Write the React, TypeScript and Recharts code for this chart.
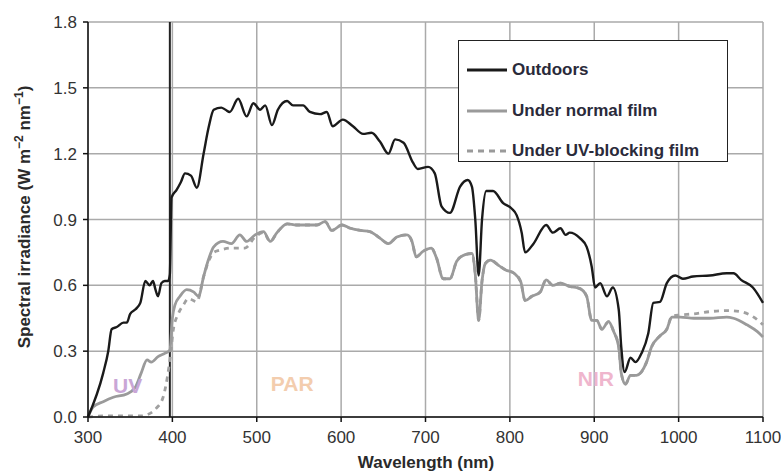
import {
  CartesianGrid,
  Legend,
  Line,
  LineChart,
  ReferenceDot,
  ReferenceLine,
  XAxis,
  YAxis,
} from 'recharts'

const xTicks = [300, 400, 500, 600, 700, 800, 900, 1000, 1100]
const yTicks = [0, 0.3, 0.6, 0.9, 1.2, 1.5, 1.8]

const outdoorsNm = [
  300, 318, 324, 328, 334, 342, 346, 350, 356, 362, 368, 373, 377, 380, 383, 387, 391, 395, 397, 399,
  405, 410, 415, 422, 429, 437, 443, 449, 458, 463, 468, 478, 488, 496, 504, 510, 518, 525, 536, 543,
  555, 563, 575, 583, 590, 602, 614, 626, 636, 646, 656, 664, 674, 685, 691, 703, 711, 719, 729, 741,
  750, 755, 759, 763, 767, 772, 780, 792, 802, 808, 814, 818, 828, 843, 851, 860, 866, 871, 883, 891,
  897, 901, 907, 915, 922, 929, 932, 936, 943, 949, 956, 964, 970, 978, 986, 996, 1005, 1017, 1037, 1057,
  1065, 1074, 1088, 1100,
]
const outdoorsVal = [
  0, 0.2, 0.3, 0.4, 0.41, 0.43, 0.43, 0.47, 0.49, 0.52, 0.62, 0.6, 0.62, 0.58, 0.55, 0.61, 0.62, 0.62, 0.65, 1.0,
  1.035, 1.07, 1.11, 1.1, 1.045, 1.2, 1.32, 1.4, 1.41, 1.4, 1.39, 1.45, 1.37, 1.43, 1.4, 1.42, 1.33, 1.4, 1.44, 1.42,
  1.42, 1.39, 1.38, 1.39, 1.325, 1.355, 1.325, 1.29, 1.295, 1.255, 1.2, 1.265, 1.25, 1.16, 1.13, 1.14, 1.11, 0.96, 0.93, 1.05,
  1.08, 1.05, 0.9, 0.645, 0.9, 1.03, 1.03, 0.975, 0.95, 0.92, 0.84, 0.75, 0.79, 0.875, 0.84, 0.86, 0.83, 0.84, 0.815, 0.775,
  0.685, 0.59, 0.61, 0.55, 0.59, 0.49, 0.32, 0.205, 0.27, 0.25, 0.29, 0.38, 0.52, 0.525, 0.61, 0.645, 0.63, 0.64, 0.645, 0.655,
  0.655, 0.625, 0.59, 0.52,
]

const normalNm = [
  300, 306, 318, 330, 346, 356, 363, 370, 375, 383, 391, 397, 400, 403, 409, 417, 425, 431, 437, 443,
  449, 460, 470, 480, 488, 498, 508, 516, 524, 536, 547, 559, 571, 581, 589, 601, 611, 623, 634, 646,
  656, 666, 678, 684, 689, 697, 707, 713, 721, 729, 737, 747, 755, 759, 763, 767, 771, 777, 787, 795,
  805, 813, 818, 826, 836, 843, 851, 860, 871, 883, 891, 897, 903, 909, 917, 923, 929, 932, 937, 943,
  950, 962, 968, 978, 986, 992, 1002, 1018, 1037, 1057, 1065, 1081, 1093, 1100,
]
const normalVal = [
  0, 0.045, 0.07, 0.09, 0.105, 0.135, 0.2, 0.26, 0.25, 0.275, 0.29, 0.305, 0.45, 0.51, 0.55, 0.58, 0.57, 0.55, 0.64, 0.72,
  0.775, 0.8, 0.79, 0.83, 0.8, 0.83, 0.845, 0.8, 0.84, 0.88, 0.875, 0.875, 0.875, 0.89, 0.85, 0.875, 0.86, 0.85, 0.845, 0.815,
  0.79, 0.82, 0.83, 0.8, 0.73, 0.755, 0.77, 0.725, 0.63, 0.63, 0.71, 0.74, 0.745, 0.65, 0.44, 0.62, 0.7, 0.715, 0.69, 0.67,
  0.655, 0.615, 0.53, 0.55, 0.57, 0.625, 0.6, 0.61, 0.595, 0.585, 0.55, 0.44, 0.44, 0.4, 0.435, 0.39, 0.32, 0.2, 0.15, 0.19,
  0.19, 0.25, 0.32, 0.37, 0.4, 0.455, 0.455, 0.45, 0.45, 0.455, 0.45, 0.42, 0.39, 0.365,
]

const uvBlockNm = [
  300, 320, 340, 364, 370, 381, 389, 394, 398, 401, 407, 413, 419, 429, 437, 443, 449, 456, 470, 486,
  498, 508, 516, 524, 536, 547, 559, 571, 581, 589, 601, 611, 623, 634, 646, 656, 666, 678, 684, 689,
  697, 707, 713, 721, 729, 737, 747, 755, 759, 763, 767, 771, 777, 787, 795, 805, 813, 818, 826, 836,
  843, 851, 860, 871, 883, 891, 897, 903, 909, 917, 923, 929, 932, 937, 943, 950, 962, 968, 978, 986,
  992, 1002, 1018, 1037, 1057, 1073, 1089, 1100,
]
const uvBlockVal = [
  0, 0.005, 0.005, 0.005, 0.01, 0.04, 0.09, 0.18, 0.29, 0.395, 0.47, 0.51, 0.54, 0.525, 0.64, 0.71, 0.75, 0.76, 0.77, 0.77,
  0.82, 0.84, 0.8, 0.84, 0.88, 0.875, 0.875, 0.875, 0.89, 0.85, 0.875, 0.86, 0.85, 0.845, 0.815, 0.79, 0.82, 0.83, 0.8, 0.73,
  0.755, 0.77, 0.725, 0.63, 0.63, 0.71, 0.74, 0.745, 0.65, 0.44, 0.62, 0.7, 0.715, 0.69, 0.67, 0.655, 0.615, 0.53, 0.55, 0.57,
  0.625, 0.6, 0.61, 0.595, 0.585, 0.55, 0.44, 0.44, 0.4, 0.435, 0.39, 0.32, 0.2, 0.15, 0.19, 0.19, 0.25, 0.32, 0.37, 0.4,
  0.46, 0.465, 0.47, 0.48, 0.485, 0.48, 0.455, 0.42,
]

const toPoints = (nm: number[], val: number[]) => nm.map((x, i) => ({ nm: x, value: val[i] }))

const outdoors = toPoints(outdoorsNm, outdoorsVal)
const normalFilm = toPoints(normalNm, normalVal)
const uvBlockFilm = toPoints(uvBlockNm, uvBlockVal)

const FONT = '"Liberation Sans", Arial, sans-serif'

const legendItems = [
  { label: 'Outdoors', color: '#1a1a1a', dash: undefined },
  { label: 'Under normal film', color: '#9a9a9a', dash: undefined },
  { label: 'Under UV-blocking film', color: '#9a9a9a', dash: '6 5' },
]

function LegendBox() {
  return (
    <div
      style={{
        border: '1.5px solid #222',
        background: '#fff',
        width: 270,
        height: 122,
        boxSizing: 'border-box',
        padding: '9px 0 0 8px',
        fontFamily: FONT,
      }}
    >
      {legendItems.map((it) => (
        <div key={it.label} style={{ display: 'flex', alignItems: 'center', height: 40.5 }}>
          <svg width={40} height={6} style={{ marginRight: 5 }}>
            <line x1={0} y1={3} x2={40} y2={3} stroke={it.color} strokeWidth={3} strokeDasharray={it.dash} />
          </svg>
          <span style={{ fontWeight: 'bold', fontSize: 17, color: '#2a2a3a' }}>{it.label}</span>
        </div>
      ))}
    </div>
  )
}

const regionLabel = (text: string, color: string) => ({
  value: text,
  position: 'center' as const,
  fill: color,
  fontSize: 21,
  fontWeight: 'bold',
  fontFamily: FONT,
})

export default function App() {
  return (
    <div style={{ position: 'absolute', left: 0, top: 0, background: '#fff' }}>
      <LineChart
        width={781}
        height={475}
        margin={{ top: 22, right: 18, bottom: 28, left: 28 }}
        style={{ fontFamily: FONT }}
      >
        <CartesianGrid stroke="#aaaaaa" strokeWidth={1.5} />
        <XAxis
          dataKey="nm"
          type="number"
          domain={[300, 1100]}
          ticks={xTicks}
          height={30}
          allowDuplicatedCategory={false}
          stroke="#111"
          strokeWidth={1.5}
          tickSize={5}
          tickMargin={9}
          tick={{ fill: '#333', fontSize: 17, fontFamily: FONT }}
        />
        <YAxis
          type="number"
          domain={[0, 1.8]}
          ticks={yTicks}
          width={60}
          stroke="#111"
          strokeWidth={1.5}
          tickSize={5}
          tickMargin={6}
          tickFormatter={(v: number) => v.toFixed(1)}
          tick={{ fill: '#333', fontSize: 17, fontFamily: FONT }}
        />
        <ReferenceLine x={397} stroke="#222" strokeWidth={2} />
        <Line
          data={uvBlockFilm}
          dataKey="value"
          type="monotone"
          stroke="#a0a0a0"
          strokeWidth={2.8}
          strokeDasharray="5 5"
          dot={false}
          isAnimationActive={false}
          name="Under UV-blocking film"
        />
        <Line
          data={normalFilm}
          dataKey="value"
          type="monotone"
          stroke="#9a9a9a"
          strokeWidth={2.8}
          dot={false}
          isAnimationActive={false}
          name="Under normal film"
        />
        <Line
          data={outdoors}
          dataKey="value"
          type="monotone"
          stroke="#1a1a1a"
          strokeWidth={2.4}
          dot={false}
          isAnimationActive={false}
          name="Outdoors"
        />
        <ReferenceDot x={347} y={0.144} r={0} fill="none" stroke="none" label={regionLabel('UV', '#c9a6d6')} />
        <ReferenceDot x={542} y={0.153} r={0} fill="none" stroke="none" label={regionLabel('PAR', '#f3cdae')} />
        <ReferenceDot x={902} y={0.176} r={0} fill="none" stroke="none" label={regionLabel('NIR', '#efb6cd')} />
        <Legend
          layout="horizontal"
          verticalAlign="middle"
          align="center"
          content={() => <LegendBox />}
          wrapperStyle={{ position: 'absolute', left: 458, top: 40, width: 272, height: 124 }}
        />
        <text
          transform="rotate(-90)"
          x={-217}
          y={30}
          textAnchor="middle"
          fontSize={17}
          fontWeight="bold"
          fill="#2a2a2a"
          fontFamily={FONT}
        >
          Spectral irradiance (W m
          <tspan dy={-7} fontSize={12}>−2</tspan>
          <tspan dy={7}> nm</tspan>
          <tspan dy={-7} fontSize={12}>−1</tspan>
          <tspan dy={7}>)</tspan>
        </text>
        <text x={426} y={468} textAnchor="middle" fontSize={17} fontWeight="bold" fill="#2a2a2a" fontFamily={FONT}>
          Wavelength (nm)
        </text>
      </LineChart>
    </div>
  )
}
